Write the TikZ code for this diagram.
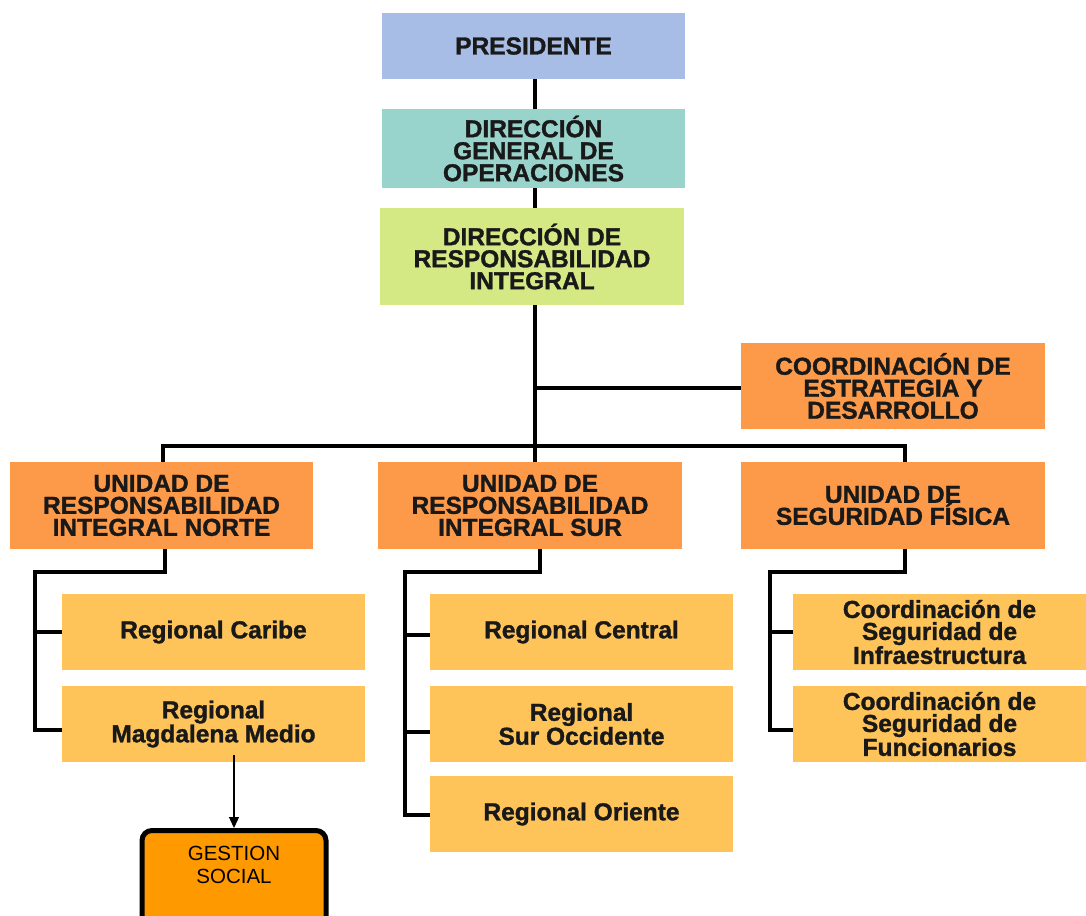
\documentclass[tikz,border=0pt]{standalone}
\usepackage{fontspec}
\setmainfont{Liberation Sans}
\newfontfamily\boxfont[FakeBold=1.3]{Liberation Sans}
\usetikzlibrary{arrows.meta}
\pgfdeclarelayer{bg}
\pgfsetlayers{bg,main}
\definecolor{cpres}{HTML}{A8BDE6}
\definecolor{cdgo}{HTML}{99D4CC}
\definecolor{cdri}{HTML}{D4E984}
\definecolor{cunit}{HTML}{FD9A4A}
\definecolor{creg}{HTML}{FEC45A}
\definecolor{cgest}{HTML}{FF9900}
\tikzset{
  box/.style={draw=none, minimum width=303pt, inner sep=0pt, align=center,
    font=\boxfont\bfseries\fontsize{24.5}{22}\selectfont, text=black!90},
  regbox/.style={box, fill=creg, minimum height=76pt},
  unitbox/.style={box, fill=cunit, minimum height=87pt},
  conn/.style={line width=4pt, black, line join=miter},
  shade/.style={line width=4pt, black!30, opacity=0.6, line join=miter},
}
\begin{document}
\begin{tikzpicture}[x=1pt,y=-1pt]
\useasboundingbox (0,0) rectangle (1086,915);

\node[box, fill=cpres, minimum height=66pt] (pres) at (533.5,46) {PRESIDENTE};
\node[box, fill=cdgo, minimum height=79pt] (dgo) at (533.5,148.5) {DIRECCIÓN\\GENERAL DE\\OPERACIONES};
\node[box, fill=cdri, minimum width=304pt, minimum height=97pt] (dri) at (532,256.5) {DIRECCIÓN DE\\RESPONSABILIDAD\\INTEGRAL};
\node[unitbox, minimum height=86pt, minimum width=304pt] (ced) at (893,386) {COORDINACIÓN DE\\ESTRATEGIA Y\\DESARROLLO};
\node[unitbox] (nor) at (161.5,505.5) {UNIDAD DE\\RESPONSABILIDAD\\INTEGRAL NORTE};
\node[unitbox, minimum width=304pt] (sur) at (530,505.5) {UNIDAD DE\\RESPONSABILIDAD\\INTEGRAL SUR};
\node[unitbox, minimum width=304pt] (seg) at (893,505.5) {UNIDAD DE\\SEGURIDAD FÍSICA};

\node[regbox] (rcar) at (213.5,632) {Regional Caribe};
\node[regbox] (rmag) at (213.5,724) {Regional\\Magdalena Medio};
\node[regbox] (rcen) at (581.5,632) {Regional Central};
\node[regbox] (rsoc) at (581.5,724) {Regional\\Sur Occidente};
\node[regbox] (rori) at (581.5,814) {Regional Oriente};
\node[regbox, minimum width=293pt] (cinf) at (939.5,632) {Coordinación de\\Seguridad de\\Infraestructura};
\node[regbox, minimum width=293pt] (cfun) at (939.5,724) {Coordinación de\\Seguridad de\\Funcionarios};

\node[draw=black, line width=5pt, fill=cgest, rounded corners=10pt,
  minimum width=184pt, minimum height=100pt, anchor=north, inner sep=0pt] (gest) at (234,828) {};
\node[font=\fontsize{20.5}{23}\selectfont, align=center, inner sep=0pt] (gestt) at (234,864.5) {GESTION\\SOCIAL};

% coordinates of the connector bends
\coordinate (bus) at (535,446);
\coordinate (cedj) at (535,388);
\coordinate (nl) at (35,572);
\coordinate (sl) at (405,572);
\coordinate (gl) at (770,572);

\begin{pgfonlayer}{bg}
% shadows
\begin{scope}[shift={(2.5,2.5)}]
\draw[shade] ([xshift=1.5]pres.south) -- (sur.north -| bus);
\draw[shade] (cedj) -- (cedj -| ced.west);
\draw[shade] ([xshift=1.5]nor.north) |- (bus) -| ([xshift=12]seg.north);
\draw[shade] ([xshift=3.5]nor.south) |- (nl) |- ([yshift=-6]rmag.west);
\draw[shade] (nl |- rcar.west) -- (rcar.west);
\draw[shade] ([xshift=10]sur.south) |- (sl) |- ([yshift=-1]rori.west);
\draw[shade] ([yshift=-3]sl |- rcen.west) -- ([yshift=-3]rcen.west);
\draw[shade] ([yshift=-8]sl |- rsoc.west) -- ([yshift=-8]rsoc.west);
\draw[shade] ([xshift=12]seg.south) |- (gl) |- ([yshift=-6]cfun.west);
\draw[shade] (gl |- cinf.west) -- (cinf.west);
\end{scope}

% connectors
\draw[conn] ([xshift=1.5]pres.south) -- ([xshift=1.5]dgo.north);
\draw[conn] ([xshift=1.5]dgo.south) -- ([xshift=3]dri.north);
\draw[conn] ([xshift=3]dri.south) -- (sur.north -| bus);
\draw[conn] (cedj) -- (cedj -| ced.west);
\draw[conn] ([xshift=1.5]nor.north) |- (bus) -| ([xshift=12]seg.north);
\draw[conn] ([xshift=3.5]nor.south) |- (nl) |- ([yshift=-6]rmag.west);
\draw[conn] (nl |- rcar.west) -- (rcar.west);
\draw[conn] ([xshift=10]sur.south) |- (sl) |- ([yshift=-1]rori.west);
\draw[conn] ([yshift=-3]sl |- rcen.west) -- ([yshift=-3]rcen.west);
\draw[conn] ([yshift=-8]sl |- rsoc.west) -- ([yshift=-8]rsoc.west);
\draw[conn] ([xshift=12]seg.south) |- (gl) |- ([yshift=-6]cfun.west);
\draw[conn] (gl |- cinf.west) -- (cinf.west);
\end{pgfonlayer}

% arrow to Gestion Social
\draw[line width=1.3pt, -{Triangle[length=11pt,width=10pt]}] ([xshift=20.5,yshift=7]rmag.south) -- (gest.north);
\end{tikzpicture}
\end{document}
